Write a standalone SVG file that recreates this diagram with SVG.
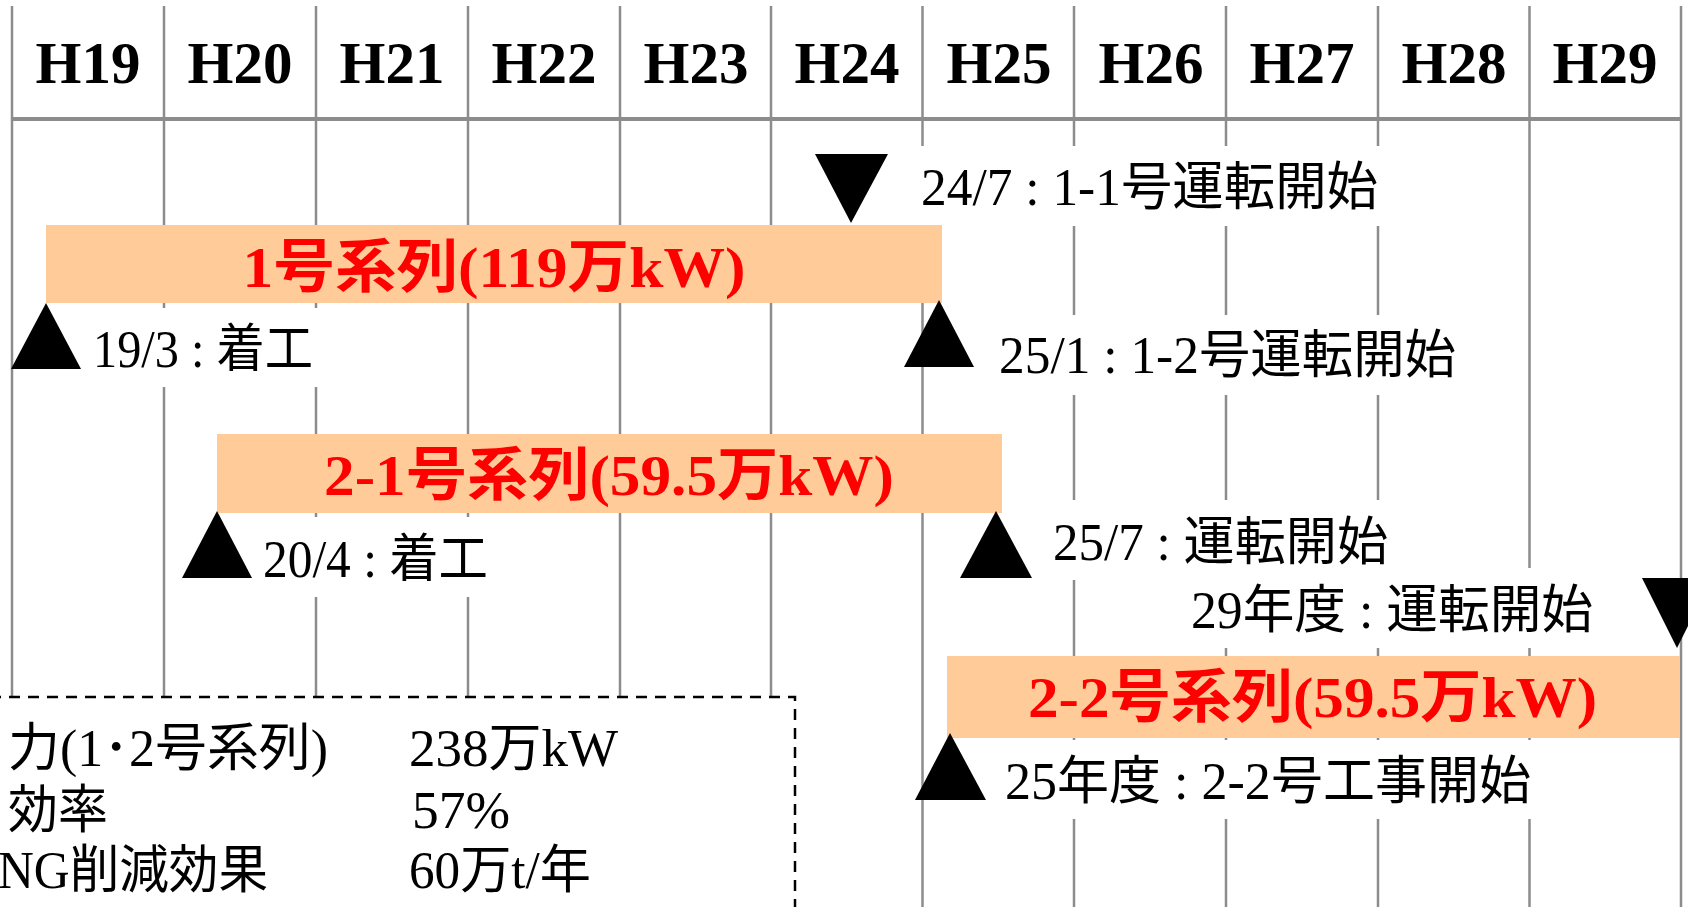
<svg xmlns="http://www.w3.org/2000/svg" width="1688" height="907" viewBox="0 0 1688 907">
<style>
.bg{fill:#ffffff}
.vl{stroke:#8c8c8c;stroke-width:2.5;fill:none}
.hl{stroke:#8c8c8c;stroke-width:4;fill:none}
.hdr{font-family:"Liberation Serif","Noto Sans CJK JP",serif;font-weight:bold;font-size:59px;fill:#000;text-anchor:middle}
.bar{fill:#FFCC99}
.red{font-family:"Liberation Serif","Noto Sans CJK JP",serif;font-weight:bold;font-size:58px;fill:#FF0000;text-anchor:middle}
.lbl{font-family:"Liberation Serif","Noto Sans CJK JP",serif;font-size:52px;fill:#000}
.wb{fill:#ffffff}
.tri{fill:#000000}
.box{fill:#ffffff;stroke:#000;stroke-width:2.5;stroke-dasharray:11 8}
</style>
<rect class="bg" x="0" y="0" width="1688" height="907"/>
<g id="grid">
<line class="vl" x1="12" y1="6" x2="12" y2="907"/>
<line class="vl" x1="164" y1="6" x2="164" y2="907"/>
<line class="vl" x1="316" y1="6" x2="316" y2="907"/>
<line class="vl" x1="468" y1="6" x2="468" y2="907"/>
<line class="vl" x1="620" y1="6" x2="620" y2="907"/>
<line class="vl" x1="771" y1="6" x2="771" y2="907"/>
<line class="vl" x1="922.5" y1="6" x2="922.5" y2="907"/>
<line class="vl" x1="1074" y1="6" x2="1074" y2="907"/>
<line class="vl" x1="1226" y1="6" x2="1226" y2="907"/>
<line class="vl" x1="1378" y1="6" x2="1378" y2="907"/>
<line class="vl" x1="1529.5" y1="6" x2="1529.5" y2="907"/>
<line class="vl" x1="1681" y1="6" x2="1681" y2="907"/>
<line class="hl" x1="12" y1="119" x2="1681" y2="119"/>
</g>
<g id="header">
<text class="hdr" x="88" y="83">H19</text>
<text class="hdr" x="240" y="83">H20</text>
<text class="hdr" x="392" y="83">H21</text>
<text class="hdr" x="544" y="83">H22</text>
<text class="hdr" x="696" y="83">H23</text>
<text class="hdr" x="847" y="83">H24</text>
<text class="hdr" x="999" y="83">H25</text>
<text class="hdr" x="1151" y="83">H26</text>
<text class="hdr" x="1302" y="83">H27</text>
<text class="hdr" x="1454" y="83">H28</text>
<text class="hdr" x="1605" y="83">H29</text>
</g>
<g id="summary-box">
<rect class="box" x="-10" y="697" width="805" height="230"/>
<text class="lbl" x="8" y="766" textLength="320" lengthAdjust="spacingAndGlyphs">力(1･2号系列)</text>
<text class="lbl" x="8" y="828" textLength="100" lengthAdjust="spacingAndGlyphs">効率</text>
<text class="lbl" x="-2" y="888" textLength="270" lengthAdjust="spacingAndGlyphs">NG削減効果</text>
<text class="lbl" x="409" y="766" textLength="209" lengthAdjust="spacingAndGlyphs">238万kW</text>
<text class="lbl" x="412" y="828" textLength="98" lengthAdjust="spacingAndGlyphs">57%</text>
<text class="lbl" x="409" y="888" textLength="182" lengthAdjust="spacingAndGlyphs">60万t/年</text>
</g>
<g id="white-masks">
<rect class="wb" x="905" y="146" width="495" height="80"/>
<rect class="wb" x="86" y="308" width="240" height="79"/>
<rect class="wb" x="985" y="315" width="490" height="80"/>
<rect class="wb" x="257" y="517" width="243" height="80"/>
<rect class="wb" x="1040" y="500" width="360" height="80"/>
<rect class="wb" x="1180" y="568" width="420" height="80"/>
<rect class="wb" x="995" y="740" width="545" height="79"/>
</g>
<g id="unit1-bar">
<rect class="bar" x="46" y="225" width="896" height="78"/>
<text class="red" x="494" y="287" textLength="503" lengthAdjust="spacingAndGlyphs">1号系列(119万kW)</text>
</g>
<g id="unit2-1-bar">
<rect class="bar" x="217" y="434" width="785" height="79"/>
<text class="red" x="609" y="495" textLength="570" lengthAdjust="spacingAndGlyphs">2-1号系列(59.5万kW)</text>
</g>
<g id="unit2-2-bar">
<rect class="bar" x="947" y="656" width="733" height="82"/>
<text class="red" x="1312.5" y="717" textLength="569" lengthAdjust="spacingAndGlyphs">2-2号系列(59.5万kW)</text>
</g>
<g id="m-24-7">
<polygon class="tri" points="815,154 888,154 851,223"/>
<text class="lbl" x="921" y="205" textLength="457" lengthAdjust="spacingAndGlyphs">24/7 : 1-1号運転開始</text>
</g>
<g id="m-19-3">
<polygon class="tri" points="46,303 11,369 81,369"/>
<text class="lbl" x="93" y="367" textLength="220" lengthAdjust="spacingAndGlyphs">19/3 : 着工</text>
</g>
<g id="m-25-1">
<polygon class="tri" points="939,300 904,367 974,367"/>
<text class="lbl" x="999" y="373" textLength="457" lengthAdjust="spacingAndGlyphs">25/1 : 1-2号運転開始</text>
</g>
<g id="m-20-4">
<polygon class="tri" points="217,511 182,578 252,578"/>
<text class="lbl" x="263" y="577" textLength="225" lengthAdjust="spacingAndGlyphs">20/4 : 着工</text>
</g>
<g id="m-25-7">
<polygon class="tri" points="996,511 960,578 1032,578"/>
<text class="lbl" x="1053" y="560" textLength="335" lengthAdjust="spacingAndGlyphs">25/7 : 運転開始</text>
</g>
<g id="m-29">
<polygon class="tri" points="1642,578 1712,578 1677,648"/>
<text class="lbl" x="1191" y="628" textLength="402" lengthAdjust="spacingAndGlyphs">29年度 : 運転開始</text>
</g>
<g id="m-25-fy">
<polygon class="tri" points="950,733 915,800 986,800"/>
<text class="lbl" x="1005" y="799" textLength="526" lengthAdjust="spacingAndGlyphs">25年度 : 2-2号工事開始</text>
</g>
</svg>
